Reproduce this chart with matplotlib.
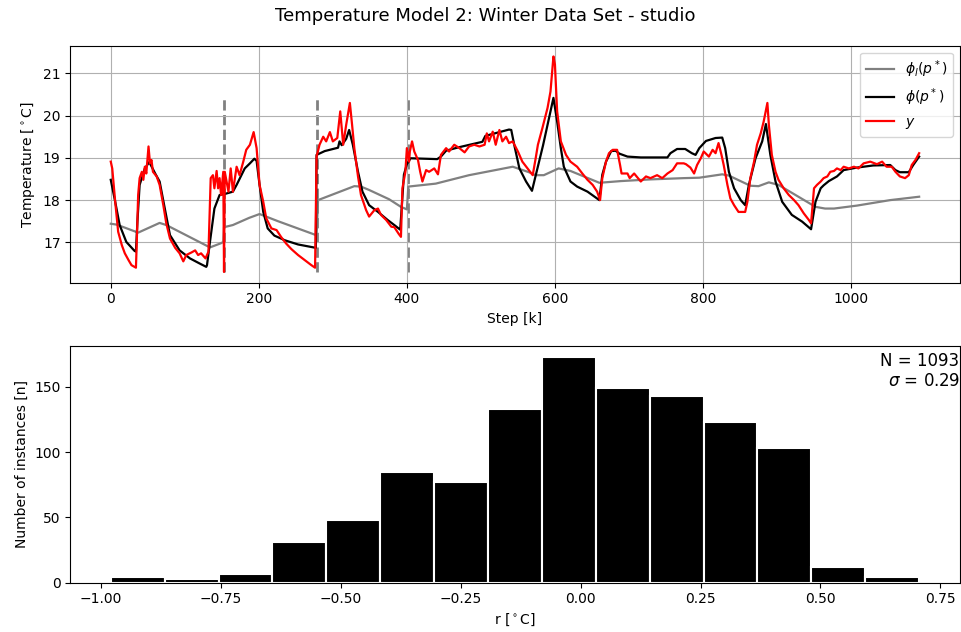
import numpy as np
import matplotlib
matplotlib.use('Agg')
import matplotlib.pyplot as plt

# model outputs, (step, temperature) pairs
gray_k = [0, 8, 37, 66, 75, 134, 149, 152, 153, 158, 165, 187, 201, 226, 276, 278, 280,
          329, 338, 349, 376, 392, 400, 402, 439, 484, 543, 565, 574, 585, 605, 621, 660,
          689, 729, 774, 795, 826, 835, 864, 875, 889, 902, 952, 965, 977, 1008, 1053, 1092]
gray_T = [17.44, 17.42, 17.23, 17.46, 17.41, 16.88, 16.98, 17.01, 17.36, 17.38, 17.41, 17.58,
          17.67, 17.50, 17.18, 17.17, 18.00, 18.33, 18.32, 18.24, 18.02, 17.84, 17.78, 18.32,
          18.39, 18.59, 18.79, 18.66, 18.59, 18.59, 18.75, 18.69, 18.41, 18.45, 18.49, 18.52,
          18.53, 18.61, 18.58, 18.34, 18.33, 18.42, 18.36, 17.84, 17.80, 17.80, 17.87, 18.00, 18.08]

black_k = [0, 6, 12, 21, 32, 34, 36, 39, 46, 52, 60, 66, 73, 80, 93, 107, 120, 129, 130, 134,
           140, 147, 153, 165, 170, 181, 188, 194, 197, 201, 206, 212, 221, 235, 253, 277, 278,
           289, 307, 309, 312, 318, 322, 327, 334, 340, 349, 361, 374, 383, 391, 396, 400, 405,
           441, 446, 453, 470, 502, 506, 538, 541, 545, 552, 561, 569, 584, 598, 603, 608, 612,
           621, 630, 644, 660, 664, 669, 676, 682, 687, 698, 716, 752, 756, 765, 776, 785, 790,
           795, 804, 817, 826, 830, 835, 842, 851, 857, 862, 871, 880, 885, 891, 898, 907, 920,
           934, 946, 952, 959, 963, 970, 981, 990, 1008, 1030, 1053, 1060, 1066, 1078, 1084, 1092]
black_T = [18.48, 17.96, 17.41, 17.01, 16.80, 16.78, 17.49, 18.36, 18.75, 18.90, 18.63, 18.44,
           17.80, 17.17, 16.81, 16.62, 16.50, 16.42, 16.46, 17.01, 17.80, 18.12, 18.14, 18.20,
           18.36, 18.75, 18.87, 18.98, 18.93, 18.36, 17.72, 17.33, 17.16, 17.05, 16.95, 16.87,
           19.07, 19.16, 19.24, 19.39, 19.30, 19.45, 19.66, 19.31, 18.67, 18.20, 17.88, 17.72,
           17.53, 17.41, 17.30, 18.60, 18.85, 18.99, 18.97, 19.03, 19.17, 19.25, 19.38, 19.52,
           19.67, 19.66, 19.31, 18.75, 18.44, 18.22, 19.30, 20.42, 19.86, 19.23, 18.79, 18.44,
           18.32, 18.20, 18.00, 18.60, 18.91, 19.16, 19.17, 19.10, 19.03, 19.01, 19.01, 19.11,
           19.21, 19.21, 19.11, 19.07, 19.23, 19.40, 19.47, 19.48, 19.23, 18.67, 18.28, 18.00,
           17.88, 18.36, 18.99, 19.39, 19.80, 19.07, 18.44, 17.96, 17.65, 17.49, 17.31, 17.96,
           18.28, 18.35, 18.45, 18.56, 18.71, 18.77, 18.82, 18.83, 18.71, 18.66, 18.66, 18.83, 19.03]

red_k = [0, 2, 6, 10, 15, 19, 24, 28, 34, 35, 37, 39, 42, 44, 46, 48, 51, 53, 55, 57, 62, 66,
         71, 75, 80, 87, 93, 98, 102, 109, 114, 118, 122, 128, 132, 135, 138, 140, 143, 145,
         147, 149, 152, 153, 154, 159, 162, 165, 170, 174, 179, 183, 188, 193, 197, 201, 206,
         210, 217, 224, 230, 237, 244, 253, 262, 271, 276, 278, 282, 287, 291, 296, 300, 306,
         310, 314, 318, 323, 326, 329, 334, 338, 345, 349, 356, 361, 365, 372, 379, 383, 389,
         392, 394, 398, 400, 403, 404, 407, 410, 415, 418, 421, 426, 430, 437, 442, 446, 453,
         457, 464, 471, 478, 484, 491, 498, 505, 508, 511, 516, 520, 525, 529, 534, 538, 543,
         550, 556, 563, 570, 574, 577, 583, 590, 594, 598, 600, 603, 608, 615, 621, 630, 637,
         644, 651, 657, 661, 664, 669, 673, 678, 684, 688, 690, 698, 701, 707, 716, 723, 729,
         738, 745, 752, 759, 765, 774, 777, 783, 788, 792, 797, 801, 808, 813, 817, 821, 825,
         828, 833, 837, 842, 848, 857, 860, 864, 869, 873, 878, 882, 887, 889, 893, 898, 902,
         909, 916, 923, 929, 936, 943, 946, 950, 954, 959, 963, 968, 972, 977, 981, 986, 990,
         997, 1004, 1010, 1017, 1026, 1035, 1042, 1048, 1055, 1060, 1066, 1073, 1078, 1082,
         1087, 1092]
red_T = [18.91, 18.75, 17.96, 17.25, 16.93, 16.74, 16.58, 16.46, 16.40, 16.93, 18.12, 18.52,
         18.67, 18.48, 18.79, 18.63, 19.27, 18.87, 18.95, 18.67, 18.56, 18.36, 17.88, 17.45,
         17.09, 16.87, 16.74, 16.55, 16.70, 16.76, 16.81, 16.70, 16.74, 16.62, 16.78, 18.52,
         18.59, 18.28, 18.69, 18.28, 18.52, 18.12, 18.67, 16.30, 18.67, 18.20, 18.75, 18.20,
         18.79, 18.59, 18.91, 19.19, 19.31, 19.61, 19.23, 18.36, 17.96, 17.57, 17.33, 17.29,
         17.13, 16.97, 16.84, 16.70, 16.58, 16.46, 16.40, 19.03, 19.31, 19.50, 19.39, 19.61,
         19.39, 19.47, 20.10, 19.31, 19.78, 20.30, 19.78, 19.23, 18.56, 18.12, 17.76, 17.61,
         17.76, 17.80, 17.65, 17.53, 17.37, 17.36, 17.20, 17.13, 18.28, 18.67, 19.23, 18.91,
         19.15, 19.39, 19.15, 18.95, 18.67, 18.44, 18.71, 18.67, 18.75, 18.61, 19.07, 19.23,
         19.15, 19.31, 19.23, 19.13, 19.27, 19.31, 19.27, 19.31, 19.58, 19.39, 19.62, 19.31,
         19.66, 19.39, 19.50, 19.35, 19.39, 19.15, 18.91, 18.75, 18.59, 18.99, 19.31, 19.70,
         20.18, 20.57, 21.40, 21.21, 20.10, 19.39, 19.07, 18.91, 18.79, 18.63, 18.48, 18.36,
         18.20, 18.00, 18.52, 18.91, 19.11, 19.19, 19.19, 18.83, 18.63, 18.63, 18.52, 18.63,
         18.44, 18.56, 18.52, 18.59, 18.52, 18.63, 18.71, 18.87, 18.87, 18.85, 18.77, 18.63,
         18.83, 18.99, 19.15, 19.03, 19.19, 19.11, 19.35, 19.07, 18.83, 18.36, 18.04, 17.88,
         17.72, 17.72, 17.96, 18.52, 18.91, 19.31, 19.58, 19.86, 20.30, 19.78, 19.07, 18.67,
         18.48, 18.28, 18.12, 18.00, 17.88, 17.69, 17.53, 17.45, 18.28, 18.36, 18.44, 18.52,
         18.56, 18.67, 18.69, 18.75, 18.71, 18.79, 18.75, 18.79, 18.75, 18.87, 18.91, 18.85,
         18.91, 18.79, 18.79, 18.67, 18.56, 18.52, 18.59, 18.83, 18.95, 19.11]

# steps where the model state was reset
reset_steps = [153, 278, 401]

# residual histogram
hist_lo, hist_hi = -0.98, 0.706
hist_counts = [4, 3, 7, 31, 48, 85, 77, 133, 173, 149, 143, 123, 103, 12, 4]
n_points = 1093
sigma = 0.29

fig = plt.figure(figsize=(9.61, 6.32), dpi=100)
fig.text(0.505, 0.975, 'Temperature Model 2: Winter Data Set - studio',
         ha='center', va='center', fontsize=13)

# top: model vs measurement
ax1 = fig.add_axes([0.0732, 0.5527, 0.9253, 0.375])
ax1.vlines(reset_steps, min(red_T), max(black_T), colors='grey', linestyles='dashed',
           lw=2, zorder=1.5)
ax1.plot(gray_k, gray_T, color='grey', lw=1.6, label=r'$\phi_l(p^*)$')
ax1.plot(black_k, black_T, color='black', lw=1.6, label=r'$\phi(p^*)$')
ax1.plot(red_k, red_T, color='red', lw=1.6, label=r'$y$')
ax1.set_xlabel('Step [k]')
ax1.set_ylabel(r'Temperature [$^\circ$C]')
ax1.set_yticks([17, 18, 19, 20, 21])
ax1.grid(True)
ax1.legend(loc='upper right')

# bottom: residual histogram
ax2 = fig.add_axes([0.0732, 0.078, 0.9253, 0.375])
edges = np.linspace(hist_lo, hist_hi, len(hist_counts) + 1)
ax2.bar(edges[:-1], hist_counts, width=np.diff(edges), align='edge',
        color='black', edgecolor='white', linewidth=1.5)
ax2.set_xlabel(r'r [$^\circ$C]')
ax2.set_ylabel('Number of instances [n]')
ax2.set_xticks([-1.0, -0.75, -0.5, -0.25, 0.0, 0.25, 0.5, 0.75])
ax2.set_yticks([0, 50, 100, 150])
ax2.text(1.0, 0.975, 'N = %d\n$\\sigma$ = %.2f' % (n_points, sigma),
         transform=ax2.transAxes, ha='right', va='top', fontsize=12)

fig.savefig('out.png', dpi=100)
